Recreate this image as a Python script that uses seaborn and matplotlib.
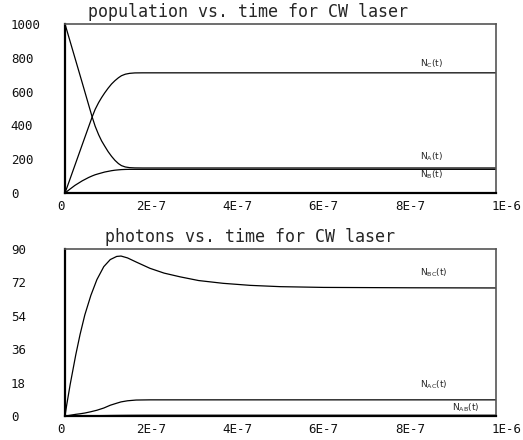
import numpy as np
import pandas as pd
import matplotlib
matplotlib.use("Agg")
import matplotlib.pyplot as plt
import matplotlib.transforms as mtransforms
import seaborn as sns

# ---------------- data ----------------
t_pop = [0.0, 0.1e-7, 0.23e-7, 0.4e-7, 0.55e-7, 0.63e-7, 0.7e-7, 0.78e-7, 0.85e-7, 0.92e-7,
         1.0e-7, 1.08e-7, 1.16e-7, 1.24e-7, 1.31e-7, 1.4e-7, 1.5e-7, 1.62e-7, 1.8e-7, 2.0e-7, 1.0e-6]
N_A = [1000, 913, 800, 652, 520, 450, 395, 345, 308, 278,
       245, 217, 193, 174, 162, 154, 150, 148.5, 148, 148, 148]
N_B = [0, 20, 45, 72, 92, 101, 108, 114, 119, 124,
       128, 132, 135, 137, 138.5, 139.5, 140, 140, 140, 140, 140]
N_C = [0, 71, 164, 286, 393, 450, 495, 535, 565, 592,
       620, 645, 665, 682, 694, 703, 708, 710.5, 711, 711, 711]

t_ph = [0.0, 0.04e-7, 0.12e-7, 0.25e-7, 0.35e-7, 0.46e-7, 0.6e-7, 0.74e-7, 0.9e-7, 1.05e-7,
        1.2e-7, 1.3e-7, 1.45e-7, 1.65e-7, 1.97e-7, 2.3e-7, 2.67e-7, 3.1e-7, 3.67e-7, 4.3e-7,
        5.0e-7, 6.0e-7, 8.0e-7, 1.0e-6]
N_BC = [0, 6, 17, 33, 44, 54.5, 65, 73.5, 80.5, 84.3, 86, 86.2, 85.2, 83, 79.6, 77, 75, 73,
        71.5, 70.4, 69.7, 69.3, 69.1, 69]
N_AC = [0, 0.1, 0.4, 0.9, 1.2, 1.6, 2.3, 3.1, 4.3, 5.8, 6.9, 7.6, 8.2, 8.6, 8.7, 8.7, 8.7,
        8.7, 8.7, 8.7, 8.7, 8.7, 8.7, 8.7]
N_AB = [0, 0, 0.02, 0.05, 0.08, 0.1, 0.14, 0.18, 0.22, 0.27, 0.31, 0.33, 0.36, 0.38, 0.4,
        0.4, 0.4, 0.4, 0.4, 0.4, 0.4, 0.4, 0.4, 0.4]

x_ticks = [0, 2e-7, 4e-7, 6e-7, 8e-7, 1e-6]
x_labels = ["0", "2E-7", "4E-7", "6E-7", "8E-7", "1E-6"]
y_ticks_pop = [0, 200, 400, 600, 800, 1000]
y_ticks_ph = [0, 18, 36, 54, 72, 90]

titles = ["population vs. time for CW laser", "photons vs. time for CW laser"]
pop_labels = [r"$\mathsf{N_{C}(t)}$", r"$\mathsf{N_{A}(t)}$", r"$\mathsf{N_{B}(t)}$"]
ph_labels = [r"$\mathsf{N_{BC}(t)}$", r"$\mathsf{N_{AC}(t)}$", r"$\mathsf{N_{AB}(t)}$"]

# ---------------- style ----------------
sns.set_style("white")
plt.rcParams["font.family"] = ["DejaVu Sans Mono", "DejaVu Sans"]
plt.rcParams["mathtext.fontset"] = "dejavusans"

W, H = 523, 440
fig = plt.figure(figsize=(W / 100, H / 100), dpi=100)
fig.patch.set_facecolor("white")

def px_axes(l, t, r, b):
    return fig.add_axes([l / W, 1 - b / H, (r - l) / W, (b - t) / H])

ax1 = px_axes(65, 24, 496, 193)
ax2 = px_axes(65, 249, 496, 416)

df_pop = pd.DataFrame({"t": t_pop, "A": N_A, "B": N_B, "C": N_C})
df_ph = pd.DataFrame({"t": t_ph, "BC": N_BC, "AC": N_AC, "AB": N_AB})

for col in ["A", "B", "C"]:
    sns.lineplot(data=df_pop, x="t", y=col, ax=ax1, color="black", linewidth=0.9)
for col in ["BC", "AC", "AB"]:
    sns.lineplot(data=df_ph, x="t", y=col, ax=ax2, color="black", linewidth=0.9)

def style(ax, yt, ymax):
    ax.set_xlim(0, 1e-6)
    ax.set_ylim(0, ymax)
    ax.set_xlabel("")
    ax.set_ylabel("")
    ax.set_xticks(x_ticks)
    ax.set_xticklabels(x_labels)
    ax.set_yticks(yt)
    ax.set_yticklabels([str(v) for v in yt])
    ax.tick_params(axis="both", direction="in", length=4, width=0.9, color="black",
                   labelsize=9, labelcolor="#111111")
    ax.tick_params(axis="y", pad=39)
    ax.tick_params(axis="x", pad=5)
    for lab in ax.get_yticklabels():
        lab.set_horizontalalignment("left")
    xl = ax.get_xticklabels()
    xl[0].set_horizontalalignment("right")
    xl[-1].set_horizontalalignment("left")
    xl[-1].set_transform(xl[-1].get_transform() +
                         mtransforms.ScaledTranslation(-4 / 100, 0, fig.dpi_scale_trans))
    for s in ["left", "bottom"]:
        ax.spines[s].set_color("black")
        ax.spines[s].set_linewidth(1.6)
    for s in ["top", "right"]:
        ax.spines[s].set_color("#555555")
        ax.spines[s].set_linewidth(1.2)

style(ax1, y_ticks_pop, 1000)
style(ax2, y_ticks_ph, 90)

# curve labels
for lab, y in zip(pop_labels, [763, 213, 107]):
    ax1.text(0.824e-6, y, lab, fontsize=6.5, ha="left", va="center")
for lab, x, y in zip(ph_labels, [0.824e-6, 0.824e-6, 0.898e-6], [77, 16.7, 4.3]):
    ax2.text(x, y, lab, fontsize=6.5, ha="left", va="center")

# titles
fig.text(248 / W, 1 - 17 / H, titles[0], ha="center", va="baseline", fontsize=12)
fig.text(250 / W, 1 - 242 / H, titles[1], ha="center", va="baseline", fontsize=12)

fig.savefig("out.png", dpi=100, facecolor="white")
